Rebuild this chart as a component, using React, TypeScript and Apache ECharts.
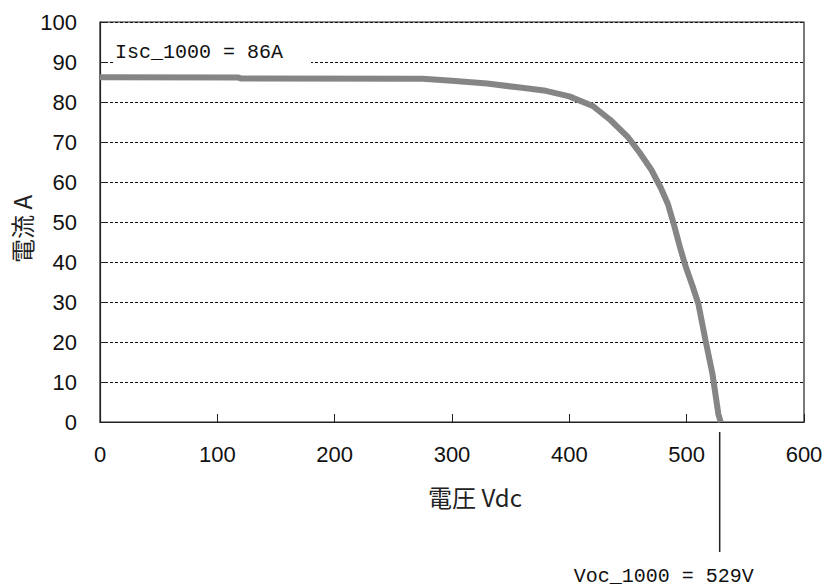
import React, { useEffect, useRef } from "react";
import * as echarts from "echarts";

// I–V curve of the array at 1000 W/m² (voltage in Vdc, current in A)
const voltage = [0, 118, 120, 275, 300, 330, 358, 380, 400, 420, 435, 450, 460, 470, 478, 484, 489, 494, 499, 505, 510, 516, 522, 527, 529];
const current = [86.2, 86.1, 85.9, 85.8, 85.3, 84.6, 83.6, 82.8, 81.4, 79, 75.5, 71.2, 67.3, 63, 58.5, 54.5, 49.5, 44, 39, 34, 29.5, 20.5, 12, 2, 0];

const iscValue = 86;
const vocValue = 529;
const iscLabel = `Isc_1000 = ${iscValue}A`;
const vocLabel = `Voc_1000 = ${vocValue}V`;

const xTicks = [0, 600, 100];
const yTicks = [0, 100, 10];

const tickFont = "'Liberation Sans', Arial, sans-serif";
const monoFont = "'Liberation Mono', 'DejaVu Sans Mono', monospace";
const cjkFont = "'Noto Sans CJK JP', sans-serif";

export default function App() {
  const ref = useRef<HTMLDivElement>(null);

  useEffect(() => {
    if (!ref.current) return;
    const chart = echarts.init(ref.current, null, { renderer: "svg" });
    const points = voltage.map((v, i) => [v, current[i]]);

    chart.setOption({
      animation: false,
      backgroundColor: "#fff",
      grid: {
        left: 100,
        top: 22,
        right: 22,
        bottom: 166,
        show: true,
        borderColor: "#222",
        borderWidth: 1.2,
        backgroundColor: "transparent",
      },
      xAxis: {
        type: "value",
        min: xTicks[0],
        max: xTicks[1],
        interval: xTicks[2],
        axisLine: { show: true, lineStyle: { color: "#222", width: 1.2 } },
        axisTick: { show: true, inside: true, length: 8, lineStyle: { color: "#222" } },
        axisLabel: { margin: 21, color: "#111", fontSize: 22, fontFamily: tickFont },
        splitLine: { show: false },
      },
      yAxis: {
        type: "value",
        min: yTicks[0],
        max: yTicks[1],
        interval: yTicks[2],
        axisLine: { show: true, lineStyle: { color: "#222", width: 1.2 } },
        axisTick: { show: true, inside: true, length: 8, lineStyle: { color: "#222" } },
        axisLabel: { margin: 23, color: "#111", fontSize: 22, fontFamily: tickFont },
        splitLine: { show: true, lineStyle: { color: "#111", type: [3, 2], width: 1 } },
      },
      series: [
        {
          type: "line",
          data: points,
          showSymbol: false,
          lineStyle: { color: "#858585", width: 6 },
          z: 3,
        },
      ],
    });

    const [xLeft, yIsc] = chart.convertToPixel({ gridIndex: 0 }, [0, 90]) as number[];
    const [xVoc, yZero] = chart.convertToPixel({ gridIndex: 0 }, [vocValue, 0]) as number[];

    chart.setOption({
      graphic: [
        {
          type: "text",
          x: xLeft + 13,
          y: yIsc + 1,
          z: 10,
          style: {
            text: iscLabel,
            fontSize: 20,
            fontFamily: monoFont,
            fill: "#111",
            verticalAlign: "bottom",
            align: "left",
            backgroundColor: "#fff",
            padding: [2, 28, 1, 2],
          },
        },
        {
          type: "line",
          z: 10,
          shape: { x1: xVoc - 1, y1: yZero + 10, x2: xVoc - 1, y2: yZero + 130 },
          style: { stroke: "#222", lineWidth: 1.5 },
        },
        {
          type: "text",
          x: xVoc - 57,
          y: yZero + 154,
          z: 10,
          style: {
            text: vocLabel,
            fontSize: 20,
            fontFamily: monoFont,
            fill: "#111",
            align: "center",
            verticalAlign: "middle",
          },
        },
        {
          type: "text",
          x: 475,
          y: 496,
          style: {
            text: "電圧 Vdc",
            fontSize: 24,
            fontFamily: cjkFont,
            fill: "#222",
            align: "center",
            verticalAlign: "middle",
          },
        },
        {
          type: "text",
          x: 21,
          y: 229,
          rotation: Math.PI / 2,
          style: {
            text: "電流 A",
            fontSize: 24,
            fontFamily: cjkFont,
            fill: "#222",
            align: "center",
            verticalAlign: "middle",
          },
        },
      ],
    });

    return () => chart.dispose();
  }, []);

  return (
    <div
      ref={ref}
      style={{ position: "absolute", left: 0, top: 0, width: 826, height: 588 }}
    />
  );
}
